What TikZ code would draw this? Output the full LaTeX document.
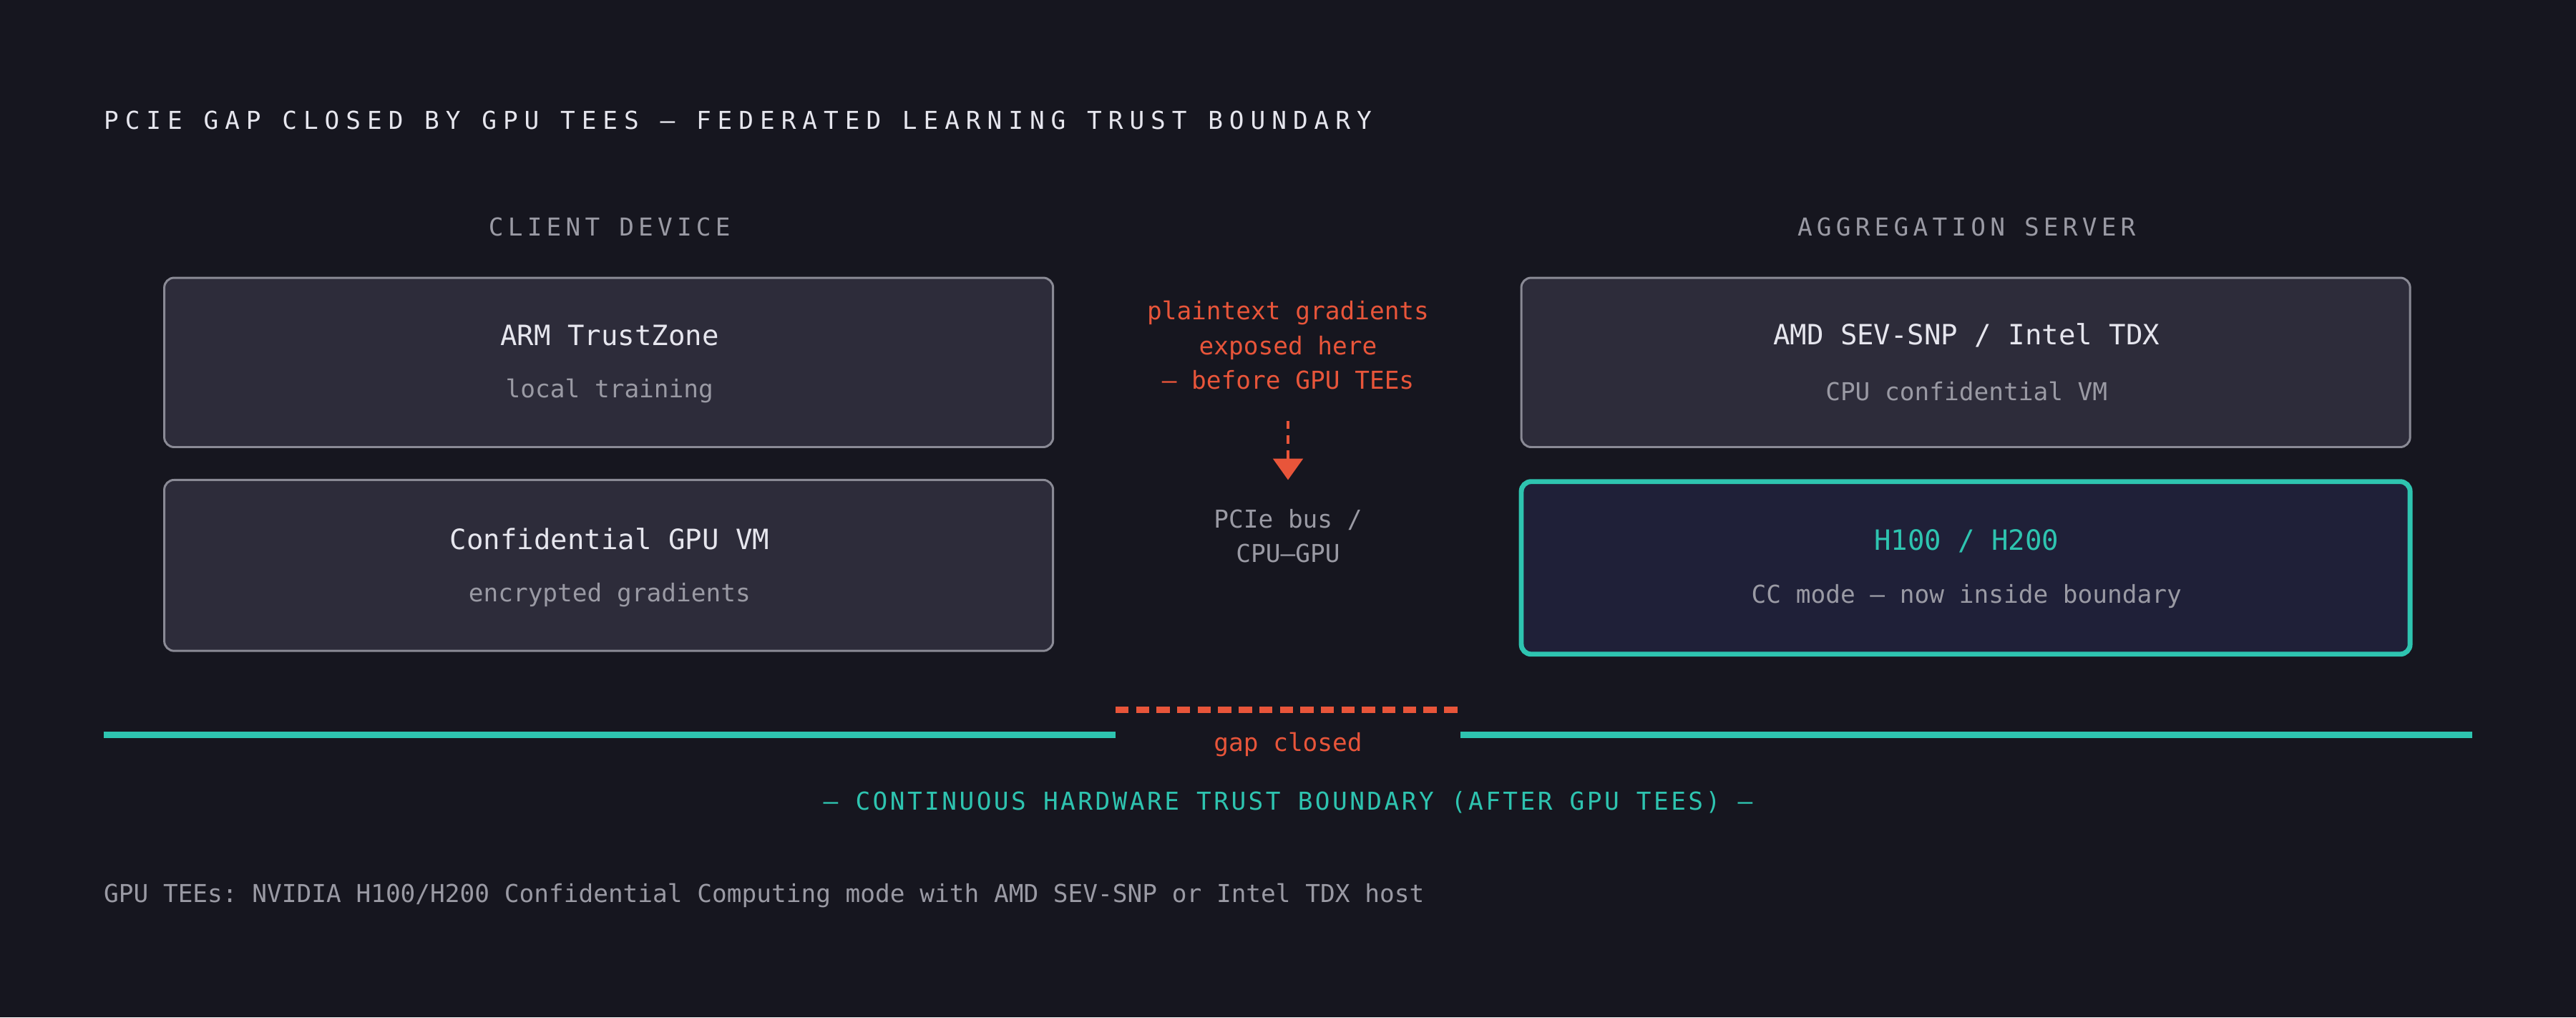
\documentclass[tikz,border=0pt]{standalone}
\usepackage{fontspec}
\setmonofont{DejaVu Sans Mono}
\newfontfamily\ttl[LetterSpace=26]{DejaVu Sans Mono}
\newfontfamily\hdr[LetterSpace=18]{DejaVu Sans Mono}
\newfontfamily\cont[LetterSpace=10]{DejaVu Sans Mono}
\usetikzlibrary{arrows.meta}
\definecolor{bg}{HTML}{16161F}
\definecolor{boxfill}{HTML}{2D2C3A}
\definecolor{boxline}{HTML}{8A8A95}
\definecolor{hfill}{HTML}{1F2038}
\definecolor{teal}{HTML}{2EC4B0}
\definecolor{red}{HTML}{E8553A}
\definecolor{lite}{HTML}{E6E6EE}
\definecolor{mid}{HTML}{9A9AA4}
\begin{document}
\begin{tikzpicture}[x=1pt,y=-1pt,
  box/.style={draw=boxline,fill=boxfill,line width=1.3pt,rounded corners=6pt},
  main/.style={text=lite,font=\ttfamily\fontsize{17}{20}\selectfont},
  sub/.style={text=mid,font=\ttfamily\fontsize{15}{18}\selectfont},
  redt/.style={text=red,font=\ttfamily\fontsize{15}{18}\selectfont},
  hd/.style={text=mid,font=\hdr\fontsize{15}{18}\selectfont}]
\fill[bg] (0,0) rectangle (1568,619);
\useasboundingbox (0,0) rectangle (1568,619);
\node[anchor=west,text=lite,font=\ttl\fontsize{15}{18}\selectfont,inner sep=0] (title) at (63,73) {PCIE GAP CLOSED BY GPU TEES — FEDERATED LEARNING TRUST BOUNDARY};
\node[hd] (ch) at (371,138) {CLIENT DEVICE};
\node[hd] (sh) at (1197,138) {AGGREGATION SERVER};
\draw[box] (100,169) rectangle (641,272);
\node[main] (b1) at (371,204) {ARM TrustZone};
\node[sub] (b1s) at (371,238) {local training};
\draw[box] (100,292) rectangle (641,396);
\node[main] (b2) at (371,328) {Confidential GPU VM};
\node[sub] (b2s) at (371,362) {encrypted gradients};
\draw[box] (926,169) rectangle (1467,272);
\node[main] (b3) at (1197,204) {AMD SEV-SNP / Intel TDX};
\node[sub] (b3s) at (1197,238) {CPU confidential VM};
\draw[draw=teal,fill=hfill,line width=3pt,rounded corners=6pt] (926,293) rectangle (1467,398);
\node[main,text=teal] (b4) at (1197,329) {H100 / H200};
\node[sub] (b4s) at (1197,363) {CC mode — now inside boundary};
\node[redt,align=center,inner sep=0] (warn) at (784,210) {plaintext gradients\\[3pt]exposed here\\[3pt]— before GPU TEEs};
\coordinate (a0) at (784,256);
\coordinate (a1) at (784,292);
\draw[red,line width=2pt,dash pattern=on 5pt off 4pt,-{Triangle[length=13pt,width=18pt]}] (a0) -- (a1);
\node[sub,align=center,inner sep=0] (pcie) at (784,326) {PCIe bus /\\[3pt]CPU–GPU};
\coordinate (l0) at (63,447); \coordinate (l1) at (679,447);
\coordinate (l2) at (889,447); \coordinate (l3) at (1505,447);
\draw[teal,line width=4pt] (l0) -- (l1);
\draw[teal,line width=4pt] (l2) -- (l3);
\coordinate (g0) at (679,432); \coordinate (g1) at (889,432);
\draw[red,line width=4pt,dash pattern=on 8pt off 4.5pt] (g0) -- (g1);
\node[redt] (gap) at (784,453) {gap closed};
\node[text=teal,font=\cont\fontsize{15}{18}\selectfont] (cb) at (784,488) {— CONTINUOUS HARDWARE TRUST BOUNDARY (AFTER GPU TEES) —};
\node[sub,anchor=west,inner sep=0] (foot) at (63,545) {GPU TEEs: NVIDIA H100/H200 Confidential Computing mode with AMD SEV-SNP or Intel TDX host};
\end{tikzpicture}
\end{document}
